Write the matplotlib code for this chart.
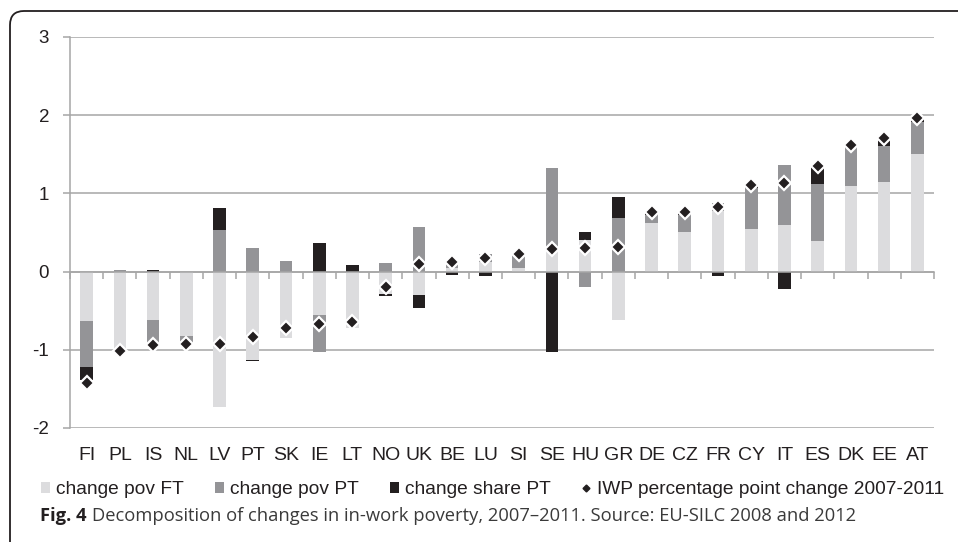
import numpy as np
import matplotlib
matplotlib.use('Agg')
import matplotlib.pyplot as plt
from matplotlib.patches import FancyBboxPatch, Patch
from matplotlib.lines import Line2D
from matplotlib.transforms import IdentityTransform
from matplotlib.ticker import FixedLocator, NullFormatter

plt.rcParams['font.family'] = ['Liberation Sans', 'DejaVu Sans']

# data
countries = ['FI', 'PL', 'IS', 'NL', 'LV', 'PT', 'SK', 'IE', 'LT', 'NO', 'UK', 'BE', 'LU',
             'SI', 'SE', 'HU', 'GR', 'DE', 'CZ', 'FR', 'CY', 'IT', 'ES', 'DK', 'EE', 'AT']
pov_ft = [-0.63, -1.00, -0.62, -0.82, -1.73, -1.13, -0.85, -0.55, -0.72, -0.29, -0.30, 0.05, 0.12,
          0.05, 0.30, 0.41, -0.62, 0.62, 0.51, 0.78, 0.54, 0.60, 0.39, 1.09, 1.14, 1.51]
pov_pt = [-0.59, 0.02, -0.32, -0.10, 0.53, 0.30, 0.13, -0.48, 0.00, 0.11, 0.57, 0.10, 0.10,
          0.18, 1.02, -0.20, 0.69, 0.11, 0.22, 0.10, 0.53, 0.76, 0.73, 0.49, 0.47, 0.40]
share_pt = [-0.17, 0.00, 0.02, 0.00, 0.28, -0.01, 0.00, 0.36, 0.08, -0.02, -0.17, -0.04, -0.05,
            0.00, -1.03, 0.09, 0.26, 0.03, 0.03, -0.06, 0.03, -0.22, 0.22, 0.03, 0.08, 0.04]
iwp = [-1.42, -1.01, -0.94, -0.93, -0.92, -0.84, -0.72, -0.675, -0.64, -0.20, 0.10, 0.12, 0.17,
       0.23, 0.29, 0.30, 0.32, 0.76, 0.76, 0.83, 1.11, 1.13, 1.35, 1.62, 1.71, 1.96]
yticks = [-2, -1, 0, 1, 2, 3]

series = [(pov_ft, '#dcdcde', 'change pov FT'),
          (pov_pt, '#949497', 'change pov PT'),
          (share_pt, '#231f20', 'change share PT')]

W, H = 958, 542
fig = plt.figure(figsize=(W / 100, H / 100), dpi=100)
ax = fig.add_axes([70 / W, 1 - 428 / H, (934 - 70) / W, (428 - 37) / H])

x = np.arange(len(countries))
pos_base = np.zeros(len(countries))
neg_base = np.zeros(len(countries))
handles = []
for vals, col, lab in series:
    v = np.array(vals)
    base = np.where(v >= 0, pos_base, neg_base)
    ax.bar(x, v, width=0.38, bottom=base, color=col, zorder=2)
    pos_base += np.clip(v, 0, None)
    neg_base += np.clip(v, None, 0)
    handles.append(Patch(facecolor=col, label=lab))

ax.plot(x, iwp, linestyle='none', marker='D', markersize=7.5, color='#231f20',
        markeredgecolor='white', markeredgewidth=1.6, zorder=4)
handles.append(Line2D([], [], linestyle='none', marker='D', markersize=3.5, color='#231f20',
                      label='IWP percentage point change 2007-2011'))

ax.set_xlim(-0.5, len(countries) - 0.5)
ax.set_ylim(-2, 3)
ax.set_yticks(yticks)
ax.set_yticklabels([str(t) for t in yticks])
ax.grid(axis='y', color='#a6a6a6', linewidth=1.1, zorder=0)
ax.set_axisbelow(True)
ax.tick_params(axis='y', length=5, color='#a6a6a6', width=1.1, pad=10,
               labelsize=13.5, labelcolor='#231f20')
for s in ['top', 'right']:
    ax.spines[s].set_visible(False)
ax.spines['left'].set_color('#a6a6a6')
ax.spines['left'].set_linewidth(1.1)

# category axis crossing at zero, tick marks between categories
ax.spines['bottom'].set_position(('data', 0))
ax.spines['bottom'].set_color('#a6a6a6')
ax.spines['bottom'].set_linewidth(1.1)
ax.spines['bottom'].set_zorder(3)
ax.xaxis.set_major_locator(FixedLocator(np.arange(len(countries) + 1) - 0.5))
ax.xaxis.set_major_formatter(NullFormatter())
ax.tick_params(axis='x', direction='out', length=5, color='#a6a6a6', width=1.1)

sec = ax.secondary_xaxis('bottom')
sec.set_xticks(x)
sec.set_xticklabels(countries)
sec.tick_params(length=0, pad=14, labelsize=14, labelcolor='#231f20')
sec.spines['bottom'].set_visible(False)

fig.legend(handles=handles, loc='center', bbox_to_anchor=(0.514, 1 - 490 / H), ncol=4,
           frameon=False, fontsize=13.8, handlelength=0.5, handleheight=0.5,
           handletextpad=0.3, columnspacing=1.6, labelcolor='#231f20')

cap = fig.text(40 / W, 1 - 516 / H, 'Fig. 4', fontsize=13.2, fontweight='bold',
               family=['Open Sans', 'DejaVu Sans'], color='#231f20', va='center')
ax.annotate('Decomposition of changes in in-work poverty, 2007\u20132011. Source: EU-SILC 2008 and 2012',
            xy=(1, 0.5), xycoords=cap, xytext=(4, 0), textcoords='offset points',
            va='center', ha='left', fontsize=13.2, family=['Open Sans', 'DejaVu Sans'],
            color='#3a3a3a', annotation_clip=False)

frame = FancyBboxPatch((10, -40), W + 40, H - 10 + 40 - 1,
                       boxstyle='round,pad=0,rounding_size=14', transform=IdentityTransform(),
                       facecolor='none', edgecolor='#231f20', linewidth=1.3)
fig.patches.append(frame)

fig.savefig('out.png', dpi=100)
